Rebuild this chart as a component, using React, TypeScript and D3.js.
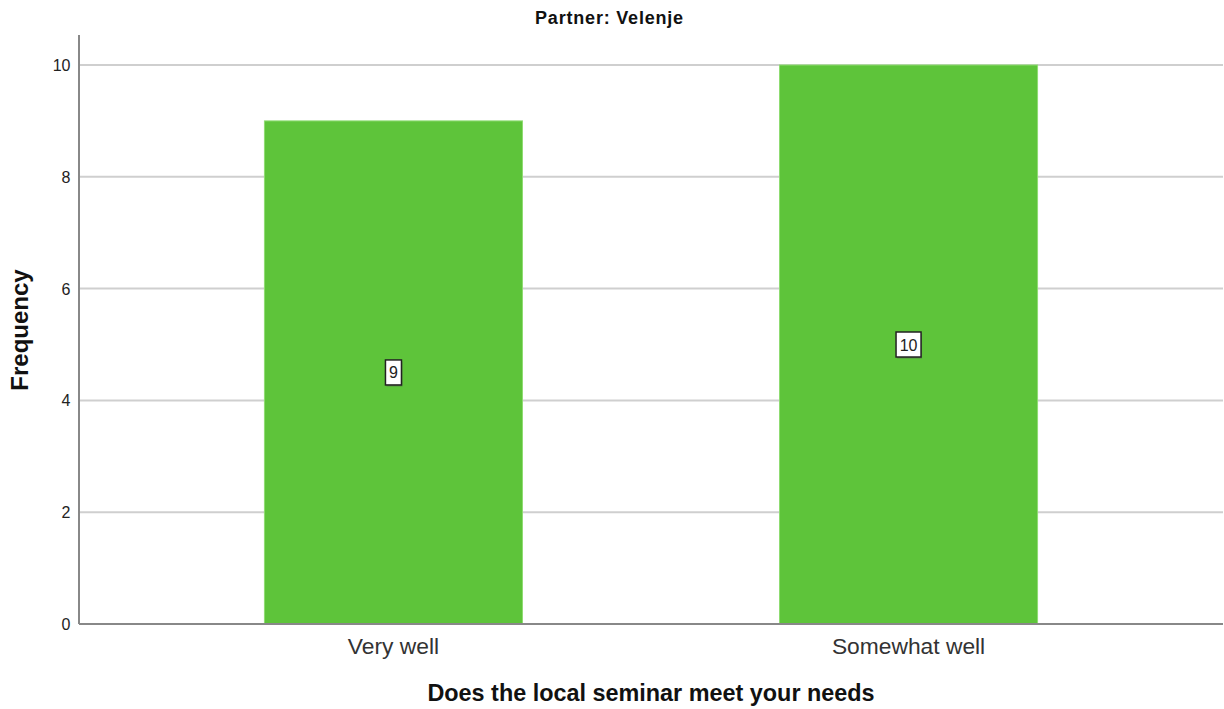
import React from "react";
import * as d3 from "d3";

const categories = ["Very well", "Somewhat well"];
const frequencies = [9, 10];
const yTicks = [0, 2, 4, 6, 8, 10];
const title = "Partner: Velenje";
const xTitle = "Does the local seminar meet your needs";
const yTitle = "Frequency";

export default function App() {
  const W = 1224, H = 709;
  const left = 79, right = 1223, top = 35, bottom = 624;
  const x = d3.scaleBand<string>().domain(categories).range([left, right]).paddingInner(0.499).paddingOuter(0.36);
  const y = d3.scaleLinear().domain([0, 10]).range([bottom, 65]);
  const font = "'Liberation Sans', Arial, sans-serif";
  return (
    <svg width={W} height={H} style={{ position: "absolute", left: 0, top: 0 }} fontFamily={font}>
      <rect width={W} height={H} fill="#fff" />
      <text x={609.5} y={24} textAnchor="middle" fontSize={18} fontWeight="bold" letterSpacing={0.8} fill="#111">{title}</text>
      {yTicks.filter(t => t > 0).map(t => (
        <line key={t} x1={left} x2={right} y1={y(t)} y2={y(t)} stroke="#cfcfcf" strokeWidth={2} />
      ))}
      {categories.map((c, i) => {
        const v = frequencies[i];
        const bx = x(c)!;
        const bw = x.bandwidth();
        const cy = y(v / 2);
        const lbl = String(v);
        const boxW = lbl.length * 9 + 7;
        return (
          <g key={c}>
            <rect x={bx} y={y(v)} width={bw} height={bottom - y(v)} fill="#5ec43a" stroke="#8fdc72" strokeWidth={1} />
            <rect x={bx + bw / 2 - boxW / 2 + 1} y={cy - 11} width={boxW} height={25} fill="#555" opacity={0.5} />
            <rect x={bx + bw / 2 - boxW / 2} y={cy - 12.5} width={boxW} height={25} fill="#fff" stroke="#222" strokeWidth={1.5} />
            <text x={bx + bw / 2} y={cy + 6} textAnchor="middle" fontSize={16} fill="#222">{lbl}</text>
          </g>
        );
      })}
      <line x1={left} x2={left} y1={top} y2={bottom} stroke="#888" strokeWidth={2} />
      <line x1={left} x2={right} y1={bottom} y2={bottom} stroke="#888" strokeWidth={2} />
      {yTicks.map(t => (
        <text key={t} x={70.5} y={y(t) + 6} textAnchor="end" fontSize={16} fill="#222">{t}</text>
      ))}
      {categories.map(c => (
        <text key={c} x={x(c)! + x.bandwidth() / 2} y={654} textAnchor="middle" fontSize={22.8} fill="#333">{c}</text>
      ))}
      <text x={651} y={701} textAnchor="middle" fontSize={23.4} fontWeight="bold" fill="#111">{xTitle}</text>
      <text transform={`translate(28,330) rotate(-90)`} textAnchor="middle" fontSize={24} fontWeight="bold" fill="#111">{yTitle}</text>
    </svg>
  );
}
